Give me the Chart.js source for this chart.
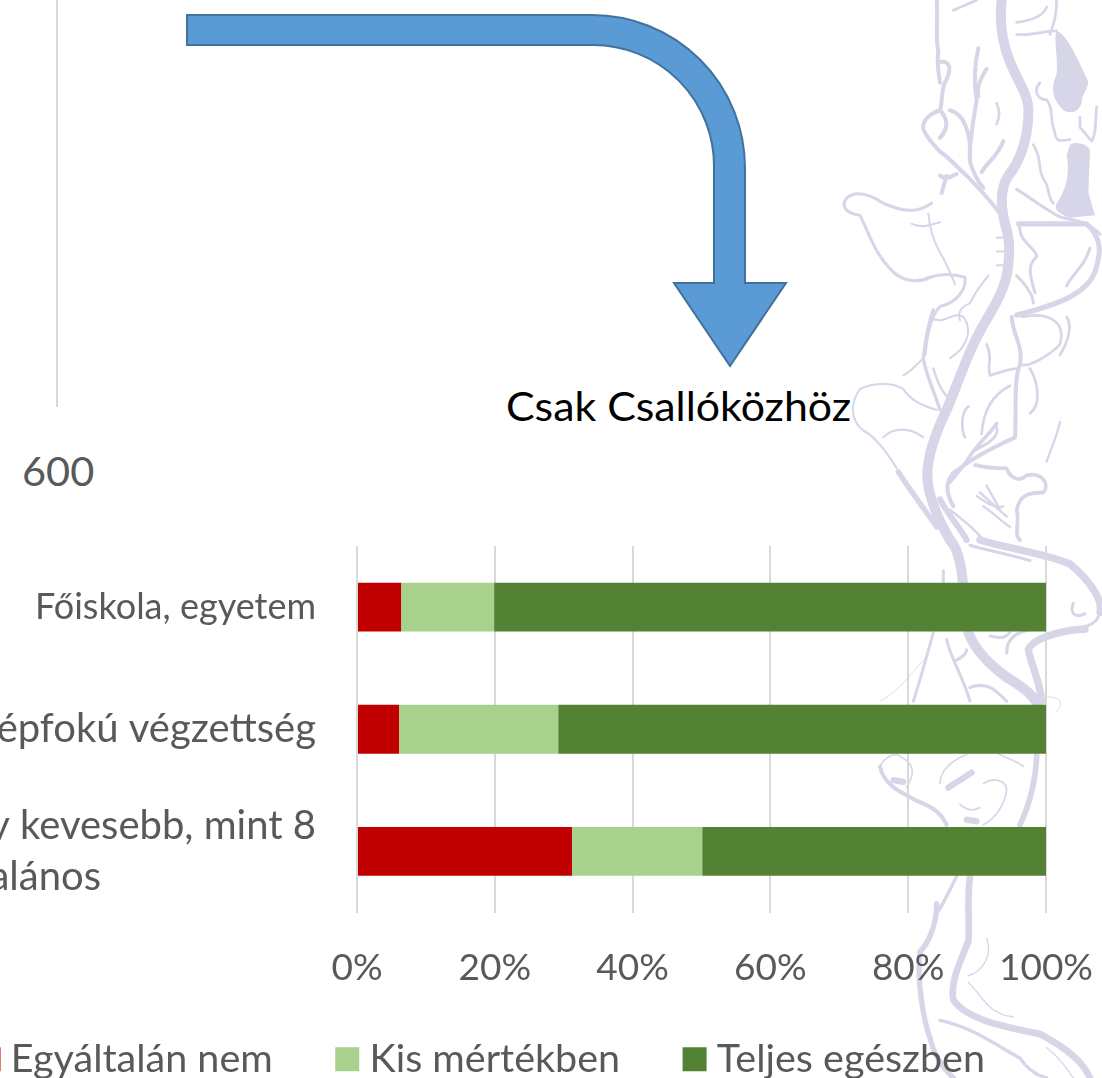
<!DOCTYPE html>
<html lang="hu">
<head>
<meta charset="utf-8">
<title>Csak Csallóközhöz</title>
<script src="https://cdn.jsdelivr.net/npm/chart.js@4"></script>
<style>
html,body{margin:0;padding:0;width:1102px;height:1078px;overflow:hidden;background:#fff}
#deco{position:absolute;left:0;top:0}
#c{position:absolute;left:-260px;top:0}
</style>
</head>
<body>
<svg id="deco" width="1102" height="1078" viewBox="0 0 1102 1078">
  <g fill="none" stroke="#D6D6E8" stroke-linecap="round" stroke-linejoin="round">
    <g transform="translate(840,0) scale(.3333,.3444)">
      <path fill="#D6D6E8" stroke="none" d="M650,90C685,100 720,190 745,235C745,260 725,270 725,300C715,330 680,335 660,310C640,285 630,260 650,215C655,170 640,110 650,90Z"/>
      <path fill="#D6D6E8" stroke="none" d="M690,420C710,408 750,420 750,440L745,560L765,625L690,632C660,622 640,610 650,590C680,550 690,500 680,450Z"/>
      <path stroke-width="30" d="M485,0C478,60 485,120 510,180C535,240 570,280 565,330C565,400 540,470 505,510C485,540 480,590 495,650C510,690 512,730 502,790C490,860 440,920 405,990C375,1050 350,1120 320,1190C290,1250 262,1320 262,1380C262,1430 290,1500 330,1568"/>
      <path stroke-width="12" d="M290,0C295,60 285,100 295,150C290,180 295,210 300,240M300,180C330,175 335,200 320,230C300,260 310,290 300,320C270,330 245,350 250,375C260,400 285,425 300,440C330,460 355,490 380,510C410,540 450,580 480,620M300,320C320,340 330,370 300,400"/>
      <path stroke-width="12" d="M415,140C405,180 400,230 410,290C400,350 385,430 390,470C400,500 415,530 430,545M440,200C420,230 410,260 415,280M330,320C370,330 395,380 390,470M490,410C470,460 440,470 425,500M300,510C320,525 335,510 350,505M320,510L305,560"/>
      <path stroke-width="8" d="M530,100C570,105 610,90 650,90M620,20C610,50 570,60 530,65M600,240C580,260 590,290 620,290C640,310 630,340 640,370C650,400 640,415 690,405M770,310C765,350 770,390 755,410L720,370L720,340M650,0C650,50 640,70 630,100M340,30C360,20 390,10 410,0M470,360C480,340 480,320 470,300M580,420C610,470 590,480 610,520C630,540 620,570 640,590"/>
      <path stroke-width="9" d="M275,590C230,620 190,615 130,590C90,565 50,550 20,575C0,600 20,620 60,625C80,660 100,730 150,780C180,815 230,825 270,805C300,795 340,795 375,805C380,840 350,880 300,890C270,920 260,980 255,1030"/>
      <path stroke-width="6" d="M265,620C270,680 290,720 310,750C325,780 335,800 345,825M215,650C250,665 280,650 300,645M270,920C310,950 340,900 370,920C400,960 380,1010 330,1040M470,690L500,690M470,730L500,730M470,770L500,770M445,800C420,830 400,860 390,880C370,890 350,900 360,930"/>
      <path stroke-width="15" d="M535,650C590,650 680,650 740,650C785,690 785,730 765,790C740,850 670,880 530,915"/>
      <path stroke-width="9" d="M530,550C580,580 620,610 660,630C700,640 740,640 780,680M540,650C530,700 590,720 590,745C560,770 570,800 585,850M530,800C560,830 580,860 580,880M750,720C730,780 700,790 680,830"/>
      <path stroke-width="12" d="M515,920C520,980 550,1000 540,1060C520,1100 530,1200 525,1270C480,1290 410,1320 360,1360C320,1380 310,1420 340,1470"/>
      <path stroke-width="8" d="M545,920C620,905 680,930 660,1000C620,1040 570,1060 550,1060M680,920C700,950 680,1000 660,1030M570,1070C600,1120 600,1180 570,1200M440,1000C460,1040 440,1060 450,1090C480,1080 510,1070 530,1070M510,1120C470,1140 430,1180 425,1260M385,1180C360,1200 365,1250 375,1270M470,1240C480,1270 440,1290 400,1310"/>
      <path stroke-width="11" d="M405,1350C440,1360 480,1360 500,1360C510,1390 540,1400 560,1380C610,1370 630,1410 610,1430C560,1430 540,1440 530,1480C540,1520 520,1550 540,1568M330,1400L380,1340C400,1300 450,1260 470,1230"/>
      <path stroke-width="6" d="M60,1130C100,1110 160,1110 190,1130C210,1160 250,1180 290,1190M60,1130C30,1170 30,1220 70,1250C90,1260 120,1280 170,1360M130,1270C160,1240 210,1240 250,1270M250,1040C230,1060 210,1080 190,1090"/>
      <path stroke-width="16" d="M175,1370C200,1410 240,1460 290,1530"/>
      <path stroke-width="10" d="M280,900C260,950 255,1000 250,1040C255,1080 280,1130 300,1190"/>
      <path stroke-width="7" d="M280,1070C290,1100 300,1130 320,1150M410,1440C440,1460 470,1480 490,1470M430,1470C460,1490 480,1510 510,1530M330,1480C370,1510 410,1540 430,1568M660,1225C650,1270 630,1310 620,1340M420,1430L500,1500M440,1410L480,1480"/>
      <path stroke-width="18" d="M300,1450C320,1490 360,1530 380,1568"/>
    </g>
    <g transform="translate(840,540) scale(.3333,.3431)">
      <path stroke-width="30" d="M330,0C370,40 370,150 380,250C390,300 430,350 500,400C570,440 600,470 605,520"/>
      <path stroke-width="22" d="M420,0C480,20 620,40 690,70C740,110 790,170 780,210M735,260C690,260 580,280 565,320C575,370 600,410 605,470"/>
      <path stroke-width="9" d="M780,210C770,250 740,250 700,262M500,330C500,280 540,260 600,260M700,185C690,210 700,230 735,215M390,15C440,30 500,40 570,60M310,90L310,200"/>
      <path stroke-width="9" d="M280,270C260,340 240,410 220,470M320,290C330,340 370,400 390,470M390,430C440,410 470,440 500,470M350,350C370,340 380,330 380,320M450,280C490,290 500,280 510,270"/>
      <path stroke-width="2.5" d="M120,470C180,440 230,370 260,340M610,460C650,450 680,470 650,500"/>
      <path stroke-width="17" d="M590,620C590,680 575,760 540,830"/>
      <path stroke-width="12" d="M120,660C130,710 170,730 230,760C270,775 300,790 320,830"/>
      <path stroke-width="5" d="M120,660C130,640 150,625 170,625C200,640 240,660 200,720M300,710C300,670 340,640 380,625M430,710C460,690 500,700 500,730C490,790 450,820 430,830M470,620C510,640 540,650 550,660M360,770C380,790 400,790 420,780"/>
      <path stroke-width="18" d="M325,722L395,678M160,700L190,705M380,815L410,820"/>
      <path stroke-width="20" d="M390,980C380,1050 390,1130 385,1170C360,1230 330,1290 340,1340C380,1400 500,1420 600,1440C680,1480 730,1520 750,1568"/>
      <path stroke-width="16" d="M290,1060C290,1130 260,1180 240,1200C230,1280 250,1400 270,1450C280,1500 310,1540 340,1568"/>
      <path stroke-width="10" d="M350,980C330,1020 310,1060 290,1090M300,1400C400,1420 480,1480 540,1510C560,1540 590,1560 620,1568"/>
      <path stroke-width="4" d="M385,1290C430,1330 440,1380 520,1390M440,1160C460,1220 420,1260 385,1270M620,1480C660,1510 680,1540 700,1568"/>
    </g>
  </g>
  <line x1="57" y1="0" x2="57" y2="407" stroke="#D9D9D9" stroke-width="2"/>
  <path fill="#5B9BD5" stroke="#41719C" stroke-width="2" d="M187,15H592A153,153 0 0 1 745,168V283H786L730,366L674,283H714V168A121,121 0 0 0 593,45H187Z"/>
  <text x="506" y="421" font-family="Lato" font-size="41" fill="#000" textLength="345" lengthAdjust="spacingAndGlyphs">Csak Csallóközhöz</text>
  <text x="22" y="486" font-family="Lato" font-size="41.5" fill="#595959">600</text>
</svg>
<canvas id="c" width="1472" height="1089"></canvas>
<script>
const categories = [
  'Főiskola, egyetem',
  'Középfokú végzettség',
  ['8 általános vagy kevesebb, mint 8', 'általános' + '\u00A0'.repeat(21)]
];
const categoryFontSizes = [36, 40, 40];
const seriesNames = ['Egyáltalán nem', 'Kis mértékben', 'Teljes egészben'];
const egyaltalanNem = [6.4, 6.1, 31.2];
const kisMertekben = [13.5, 23.1, 18.9];
const teljesEgeszben = [80.1, 70.8, 49.9];
const colors = ['#C00000', '#A9D18E', '#548235'];
const textColor = '#595959';
const fontFamily = 'Lato';

const ds = (i, data) => ({
  label: seriesNames[i], data, backgroundColor: colors[i], borderWidth: 0,
  barPercentage: 1, categoryPercentage: 0.4
});
const legendBoxes = {
  id: 'legendBoxes',
  afterDraw(chart) {
    const { ctx, legend } = chart;
    legend.legendHitBoxes.forEach((box, i) => {
      ctx.fillStyle = colors[i];
      ctx.fillRect(box.left + 9.5, box.top + (box.height - 24) / 2, 24, 24);
    });
  }
};
new Chart(document.getElementById('c'), {
  type: 'bar',
  data: { labels: categories, datasets: [ds(0, egyaltalanNem), ds(1, kisMertekben), ds(2, teljesEgeszben)] },
  plugins: [legendBoxes],
  options: {
    indexAxis: 'y', responsive: false, animation: false,
    layout: { padding: { top: 546, right: 166, left: 166, bottom: 0 } },
    scales: {
      x: {
        stacked: true, min: 0, max: 100,
        grid: { color: '#D9D9D9', lineWidth: 2, drawTicks: false },
        border: { display: false },
        afterFit(s) { s.height = 74; },
        ticks: { stepSize: 20, padding: 33, maxRotation: 0, color: textColor, font: { family: fontFamily, size: 37 }, callback: v => v + '%' }
      },
      y: {
        stacked: true,
        grid: { display: false },
        border: { display: false },
        afterFit(s) { s.width = 451; },
        ticks: { padding: 33, autoSkip: false, color: textColor, font: c => ({ family: fontFamily, size: categoryFontSizes[c.index], lineHeight: 1.28 }) }
      }
    },
    plugins: {
      tooltip: { enabled: false },
      legend: {
        position: 'bottom',
        labels: {
          boxWidth: 24, boxHeight: 24, padding: 53, color: textColor,
          font: { family: fontFamily, size: 39.5 },
          generateLabels: chart => Chart.defaults.plugins.legend.labels.generateLabels(chart).map(l => ({ ...l, fillStyle: 'rgba(0,0,0,0)', strokeStyle: 'rgba(0,0,0,0)', lineWidth: 0 }))
        }
      }
    }
  }
});
</script>
</body>
</html>
